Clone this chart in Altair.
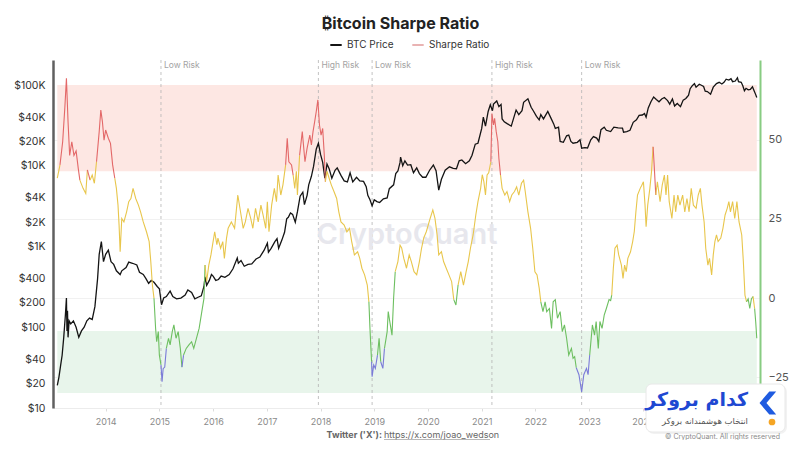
import altair as alt
import pandas as pd

W, H = 707, 348

# ---------------- data ----------------
price_year = [
    2013.10, 2013.13, 2013.16, 2013.19, 2013.22, 2013.25, 2013.27, 2013.28, 2013.29, 2013.30,
    2013.32, 2013.35, 2013.40, 2013.45, 2013.50, 2013.55, 2013.60, 2013.65, 2013.70, 2013.75,
    2013.80, 2013.85, 2013.88, 2013.92, 2013.96, 2014.00, 2014.05, 2014.10, 2014.15, 2014.20,
    2014.27, 2014.30, 2014.38, 2014.43, 2014.50, 2014.58, 2014.63, 2014.70, 2014.75, 2014.80,
    2014.85, 2014.90, 2014.96, 2015.00, 2015.04, 2015.08, 2015.13, 2015.20, 2015.25, 2015.32,
    2015.40, 2015.48, 2015.53, 2015.60, 2015.66, 2015.72, 2015.78, 2015.83, 2015.85, 2015.88,
    2015.93, 2015.97, 2016.00, 2016.05, 2016.10, 2016.15, 2016.22, 2016.30, 2016.37, 2016.45,
    2016.47, 2016.52, 2016.58, 2016.65, 2016.72, 2016.80, 2016.87, 2016.95, 2017.01, 2017.03,
    2017.08, 2017.15, 2017.19, 2017.22, 2017.28, 2017.33, 2017.37, 2017.40, 2017.44, 2017.48,
    2017.53, 2017.57, 2017.62, 2017.67, 2017.70, 2017.75, 2017.78, 2017.83, 2017.87, 2017.92,
    2017.96, 2018.00, 2018.04, 2018.08, 2018.12, 2018.16, 2018.21, 2018.27, 2018.31, 2018.38,
    2018.44, 2018.50, 2018.55, 2018.60, 2018.67, 2018.73, 2018.80, 2018.85, 2018.88, 2018.92,
    2018.96, 2019.00, 2019.05, 2019.10, 2019.17, 2019.24, 2019.28, 2019.36, 2019.40, 2019.44,
    2019.48, 2019.49, 2019.53, 2019.57, 2019.62, 2019.68, 2019.73, 2019.79, 2019.84, 2019.90,
    2019.96, 2020.03, 2020.10, 2020.15, 2020.20, 2020.25, 2020.32, 2020.40, 2020.47, 2020.53,
    2020.58, 2020.63, 2020.70, 2020.77, 2020.82, 2020.88, 2020.93, 2021.00, 2021.03, 2021.07,
    2021.12, 2021.16, 2021.20, 2021.22, 2021.28, 2021.32, 2021.36, 2021.38, 2021.42, 2021.48,
    2021.55, 2021.60, 2021.64, 2021.69, 2021.75, 2021.78, 2021.86, 2021.92, 2021.96, 2022.02,
    2022.07, 2022.10, 2022.15, 2022.23, 2022.28, 2022.34, 2022.37, 2022.43, 2022.46, 2022.52,
    2022.58, 2022.62, 2022.66, 2022.70, 2022.78, 2022.83, 2022.86, 2022.92, 2022.97, 2023.03,
    2023.08, 2023.14, 2023.18, 2023.22, 2023.28, 2023.32, 2023.40, 2023.46, 2023.54, 2023.62,
    2023.64, 2023.70, 2023.76, 2023.82, 2023.88, 2023.93, 2023.99, 2024.03, 2024.06, 2024.10,
    2024.15, 2024.20, 2024.25, 2024.30, 2024.35, 2024.40, 2024.46, 2024.50, 2024.55, 2024.59,
    2024.64, 2024.70, 2024.75, 2024.80, 2024.83, 2024.85, 2024.88, 2024.92, 2024.96, 2024.99,
    2025.05, 2025.08, 2025.13, 2025.16, 2025.20, 2025.26, 2025.31, 2025.37, 2025.42, 2025.47,
    2025.51, 2025.55, 2025.60, 2025.64, 2025.67, 2025.72, 2025.76, 2025.78, 2025.83, 2025.86,
    2025.89, 2025.92, 2025.96, 2026.00, 2026.04, 2026.07, 2026.10, 2026.12,
]
price_value = [
    19, 24, 33, 45, 75, 140, 230, 90, 160, 75,
    120, 110, 120, 100, 75, 90, 100, 120, 130, 125,
    180, 400, 800, 1150, 650, 800, 900, 650, 600, 500,
    450, 500, 550, 640, 620, 590, 480, 450, 400, 350,
    380, 360, 320, 300, 190, 230, 240, 280, 240, 225,
    230, 250, 290, 270, 225, 235, 245, 320, 420, 330,
    380, 450, 430, 380, 390, 430, 415, 450, 530, 720,
    620, 670, 570, 600, 610, 700, 740, 900, 1100, 850,
    950, 1150, 1250, 950, 1200, 1500, 2200, 2300, 2600, 2500,
    2000, 2700, 4200, 4700, 3300, 4300, 5800, 7400, 9800, 16000,
    19000, 13800, 11000, 7000, 10500, 9200, 7000, 8800, 9400, 7600,
    6500, 6300, 8200, 6300, 7200, 6500, 6400, 5500, 4300, 3800,
    3200, 3800, 3600, 3500, 3900, 4000, 5200, 5800, 8000, 8600,
    11000, 12800, 10000, 11500, 10200, 10300, 8200, 9400, 8000, 7200,
    7200, 8800, 10200, 8700, 5000, 6800, 8800, 9700, 9300, 9200,
    11500, 11800, 10600, 11500, 13500, 18500, 19000, 29000, 40000, 31000,
    47000, 57000, 48000, 58000, 63500, 54000, 57500, 38000, 35000, 33000,
    31000, 40000, 49000, 43000, 48000, 61000, 67500, 53000, 48000, 41000,
    37000, 43000, 38000, 47000, 40000, 33000, 29000, 30000, 20000, 19500,
    23500, 24000, 20000, 19000, 19500, 21000, 16500, 16800, 16600, 21000,
    23000, 22000, 20000, 28000, 30000, 27500, 26500, 30000, 29500, 29200,
    26000, 26500, 27500, 34500, 37000, 42000, 42500, 44500, 40000, 52000,
    62000, 71000, 66000, 62000, 67000, 70000, 64000, 58000, 67000, 55000,
    59000, 54000, 65000, 68000, 72000, 75000, 90000, 98000, 104000, 94000,
    102000, 100000, 96000, 84000, 83000, 77000, 94000, 104000, 108000, 103000,
    108000, 118000, 115000, 120000, 110000, 112000, 123000, 110000, 108000, 98000,
    85000, 91000, 87000, 88000, 95000, 85000, 76000, 70000,
]

sharpe_year = [
    2013.10, 2013.15, 2013.20, 2013.24, 2013.27, 2013.30, 2013.33, 2013.37, 2013.41, 2013.45,
    2013.49, 2013.52, 2013.58, 2013.63, 2013.66, 2013.71, 2013.75, 2013.79, 2013.83, 2013.88,
    2013.91, 2013.94, 2013.97, 2014.00, 2014.05, 2014.09, 2014.13, 2014.17, 2014.20, 2014.23,
    2014.25, 2014.27, 2014.30, 2014.34, 2014.39, 2014.43, 2014.47, 2014.51, 2014.56, 2014.61,
    2014.65, 2014.70, 2014.76, 2014.81, 2014.84, 2014.87, 2014.90, 2014.91, 2014.93, 2014.95,
    2014.98, 2015.00, 2015.03, 2015.05, 2015.07, 2015.10, 2015.13, 2015.17, 2015.20, 2015.24,
    2015.27, 2015.31, 2015.35, 2015.39, 2015.42, 2015.45, 2015.50, 2015.55, 2015.60, 2015.64,
    2015.69, 2015.74, 2015.79, 2015.83, 2015.85, 2015.88, 2015.92, 2015.96, 2016.00, 2016.03,
    2016.07, 2016.09, 2016.14, 2016.18, 2016.21, 2016.25, 2016.28, 2016.34, 2016.40, 2016.46,
    2016.52, 2016.56, 2016.60, 2016.65, 2016.70, 2016.74, 2016.79, 2016.84, 2016.89, 2016.93,
    2016.98, 2017.01, 2017.04, 2017.09, 2017.14, 2017.18, 2017.21, 2017.26, 2017.30, 2017.35,
    2017.38, 2017.41, 2017.46, 2017.49, 2017.52, 2017.55, 2017.57, 2017.61, 2017.66, 2017.71,
    2017.75, 2017.80, 2017.83, 2017.86, 2017.89, 2017.92, 2017.95, 2017.98, 2018.01, 2018.04,
    2018.07, 2018.09, 2018.12, 2018.16, 2018.20, 2018.25, 2018.30, 2018.34, 2018.38, 2018.44,
    2018.49, 2018.54, 2018.58, 2018.63, 2018.69, 2018.73, 2018.77, 2018.82, 2018.87, 2018.90,
    2018.92, 2018.95, 2018.96, 2018.99, 2019.02, 2019.06, 2019.09, 2019.12, 2019.16, 2019.19,
    2019.24, 2019.26, 2019.29, 2019.33, 2019.36, 2019.39, 2019.44, 2019.48, 2019.51, 2019.55,
    2019.60, 2019.65, 2019.69, 2019.74, 2019.79, 2019.84, 2019.88, 2019.92, 2019.97, 2020.04,
    2020.09, 2020.13, 2020.17, 2020.20, 2020.25, 2020.29, 2020.34, 2020.39, 2020.44, 2020.48,
    2020.52, 2020.56, 2020.61, 2020.66, 2020.71, 2020.75, 2020.79, 2020.84, 2020.89, 2020.93,
    2020.98, 2021.01, 2021.04, 2021.07, 2021.10, 2021.13, 2021.17, 2021.19, 2021.22, 2021.24,
    2021.27, 2021.30, 2021.32, 2021.35, 2021.38, 2021.43, 2021.47, 2021.52, 2021.56, 2021.61,
    2021.65, 2021.69, 2021.74, 2021.78, 2021.81, 2021.86, 2021.91, 2021.95, 2021.99, 2022.03,
    2022.07, 2022.10, 2022.14, 2022.18, 2022.21, 2022.26, 2022.30, 2022.33, 2022.37, 2022.41,
    2022.46, 2022.50, 2022.54, 2022.58, 2022.62, 2022.67, 2022.70, 2022.73, 2022.76, 2022.81,
    2022.86, 2022.90, 2022.95, 2022.98, 2023.01, 2023.06, 2023.10, 2023.13, 2023.17, 2023.20,
    2023.24, 2023.28, 2023.32, 2023.37, 2023.40, 2023.42, 2023.45, 2023.48, 2023.52, 2023.55,
    2023.60, 2023.63, 2023.66, 2023.69, 2023.72, 2023.77, 2023.81, 2023.84, 2023.87, 2023.90,
    2023.95, 2023.98, 2024.01, 2024.04, 2024.06, 2024.09, 2024.13, 2024.16, 2024.19, 2024.21,
    2024.24, 2024.27, 2024.32, 2024.36, 2024.40, 2024.43, 2024.46, 2024.49, 2024.54, 2024.58,
    2024.61, 2024.65, 2024.69, 2024.74, 2024.78, 2024.82, 2024.86, 2024.90, 2024.94, 2024.99,
    2025.03, 2025.07, 2025.10, 2025.14, 2025.17, 2025.21, 2025.24, 2025.28, 2025.31, 2025.34,
    2025.37, 2025.40, 2025.45, 2025.49, 2025.53, 2025.57, 2025.60, 2025.63, 2025.67, 2025.71,
    2025.75, 2025.79, 2025.84, 2025.87, 2025.90, 2025.93, 2025.96, 2025.99, 2026.02, 2026.05,
    2026.08, 2026.10, 2026.12,
]
sharpe_value = [
    37.8, 42.0, 49.3, 60.0, 69.3, 55.6, 45.0, 49.3, 45.0, 46.4,
    40.9, 37.2, 34.6, 33.0, 40.4, 37.2, 38.8, 36.2, 43.0, 52.5,
    59.3, 55.6, 49.8, 53.0, 50.4, 48.8, 42.0, 37.8, 34.6, 29.3,
    23.0, 14.6, 25.1, 24.0, 27.2, 30.4, 31.4, 34.6, 31.4, 29.3,
    27.2, 24.0, 20.9, 17.8, 11.5, 4.1, -0.1, -3.3, -9.6, -13.8,
    -10.6, -18.0, -21.1, -26.4, -22.3, -21.8, -15.9, -12.7, -14.8, -10.6,
    -8.5, -12.7, -10.6, -15.9, -21.8, -18.0, -15.9, -14.8, -13.8, -15.9,
    -12.7, -9.6, -4.3, -0.1, 10.4, 5.2, 10.4, 13.6, 17.8, 20.9,
    16.8, 18.9, 15.7, 17.8, 12.5, 18.9, 22.0, 24.0, 22.0, 32.5,
    26.2, 22.0, 24.0, 28.3, 25.1, 22.0, 28.3, 24.0, 29.3, 26.2,
    22.0, 30.4, 20.9, 29.3, 34.6, 30.4, 38.8, 32.5, 35.7, 42.0,
    50.4, 43.0, 42.0, 38.8, 34.6, 40.0, 32.5, 45.0, 52.5, 43.0,
    47.3, 51.4, 48.3, 52.5, 55.6, 58.8, 62.5, 54.6, 51.4, 53.5,
    45.0, 36.7, 40.0, 37.8, 35.7, 33.6, 31.4, 27.2, 24.0, 23.0,
    20.9, 22.0, 17.8, 13.6, 14.6, 12.5, 9.4, 7.3, 4.1, -1.2,
    -9.6, -20.1, -24.8, -21.1, -22.2, -18.0, -12.7, -20.1, -22.2, -15.9,
    -10.6, -4.3, -7.5, -11.7, -0.1, 8.3, 11.5, 16.7, 15.8, 12.5,
    9.4, 13.6, 11.5, 8.3, 7.3, 11.5, 15.7, 18.9, 21.0, 25.1,
    27.8, 25.1, 19.9, 13.6, 14.6, 11.5, 9.4, 7.3, 5.2, -0.5,
    -2.2, 4.1, 8.3, 4.1, 8.3, 11.5, 15.7, 19.9, 26.2, 30.4,
    34.6, 38.9, 36.7, 32.5, 38.8, 39.5, 43.0, 58.2, 54.6, 56.7,
    52.5, 49.3, 44.0, 38.8, 34.6, 32.5, 33.6, 30.4, 32.5, 33.6,
    35.1, 32.5, 36.2, 37.2, 33.6, 27.2, 22.0, 15.7, 8.3, 7.3,
    3.1, -1.2, -4.3, -1.2, -4.3, -3.3, -9.6, -1.2, -0.5, -6.4,
    -4.3, -10.6, -8.5, -12.7, -18.0, -15.9, -19.0, -18.5, -22.0, -24.2,
    -29.6, -24.2, -22.2, -24.2, -18.0, -8.5, -11.7, -7.4, -15.9, -7.4,
    -9.6, -5.4, -3.3, -0.5, -0.8, 0.9, 9.4, 15.7, 16.7, 13.6,
    10.4, 6.2, 10.4, 8.3, 12.5, 14.6, 17.8, 21.0, 27.2, 32.5,
    34.6, 35.6, 36.7, 29.3, 22.5, 29.3, 34.6, 39.8, 47.7, 42.0,
    32.5, 36.7, 30.4, 35.6, 38.8, 32.5, 38.8, 30.4, 25.1, 32.5,
    27.2, 32.5, 29.3, 32.5, 27.2, 31.4, 27.2, 34.6, 29.3, 28.3,
    32.5, 34.6, 29.3, 24.0, 15.7, 10.4, 12.5, 7.3, 13.6, 17.8,
    19.9, 17.8, 18.9, 22.0, 26.2, 28.3, 30.4, 27.2, 30.4, 25.1,
    30.4, 24.0, 19.9, 11.5, 0.9, -1.2, -0.3, -3.3, -0.3, 0.5,
    -3.3, -7.5, -12.7,
]

band_names = ["High risk zone", "Low risk zone"]
band_lo = [40.0, -30.0]
band_hi = [67.2, -10.4]
band_fill = ["#fde7e3", "#e8f5eb"]

event_year = [2015.03, 2017.96, 2018.96, 2021.19, 2022.86]
event_label = ["Low Risk", "High Risk", "Low Risk", "High Risk", "Low Risk"]

year_ticks = list(range(2014, 2025))
price_ticks = [10, 20, 40, 100, 200, 400, 1000, 2000, 4000, 10000, 20000, 40000, 100000]
sharpe_ticks = [-25, 0, 25, 50]

zone_names = ["Overheated", "Neutral", "Undervalued", "Deep value"]
zone_colors = ["#e36868", "#e8c64c", "#6dbf60", "#7b7bd8"]
series_names = ["BTC Price", "Sharpe Ratio"]
series_colors = ["#141414", "#e9b3b3"]

# ---------------- tables ----------------
price_df = pd.DataFrame({"year": price_year, "price": price_value, "series": series_names[0]})


def zone_of(v):
    if v > 40:
        return zone_names[0]
    if v >= 0:
        return zone_names[1]
    if v > -20:
        return zone_names[2]
    return zone_names[3]


rows = []
run = 0
prev = None
for i, (yr, v) in enumerate(zip(sharpe_year, sharpe_value)):
    z = zone_of(v)
    if prev is not None and z != prev:
        rows.append({"year": yr, "sharpe": v, "zone": prev, "run": run, "order": i})
        run += 1
    rows.append({"year": yr, "sharpe": v, "zone": z, "run": run, "order": i})
    prev = z
sharpe_df = pd.DataFrame(rows)

band_df = pd.DataFrame({
    "name": band_names, "lo": band_lo, "hi": band_hi,
    "x0": [sharpe_year[0]] * 2, "x1": [sharpe_year[-1]] * 2,
})
event_df = pd.DataFrame({"year": event_year, "label": event_label})

# ---------------- scales / axes ----------------
x_scale = alt.Scale(domain=[2013.02, 2026.18], nice=False, zero=False)
x_axis = alt.Axis(values=year_ticks, format="d", title=None, grid=False,
                  labelColor="#8a8a8a", labelFontSize=9, labelFont="Inter",
                  tickColor="#dcdcdc", tickSize=3, domainColor="#ececec",
                  labelPadding=6)


def X(field):
    return alt.X(field, type="quantitative", scale=x_scale, axis=x_axis)


sharpe_scale = alt.Scale(domain=[-34.7, 75.1], nice=False, zero=False)
price_scale = alt.Scale(type="log", domain=[10, 204000], nice=False)

bands = alt.Chart(band_df).mark_rect().encode(
    x=X("x0"), x2="x1:Q",
    y=alt.Y("lo:Q", scale=sharpe_scale, axis=None), y2="hi:Q",
    fill=alt.Fill("name:N", scale=alt.Scale(domain=band_names, range=band_fill), legend=None),
)

rules = alt.Chart(event_df).mark_rule(strokeDash=[3, 3], color="#b4b4b4", strokeWidth=0.8).encode(
    x=X("year"), y=alt.value(0), y2=alt.value(H),
)
rule_labels = alt.Chart(event_df).mark_text(
    align="left", baseline="middle", dx=3, fontSize=8.5, font="Inter", color="#a3a3a3"
).encode(x=X("year"), y=alt.value(5), text="label:N")

watermark = alt.Chart(pd.DataFrame({"t": ["CryptoQuant"]})).mark_text(
    fontSize=29, font="Inter", fontWeight=600, color="#e7e7ed", align="center", baseline="middle"
).encode(x=alt.value(354), y=alt.value(175), text="t:N")

price_line = alt.Chart(price_df).mark_line(strokeWidth=1.3).encode(
    x=X("year"),
    y=alt.Y("price:Q", scale=price_scale,
            axis=alt.Axis(orient="left", values=price_ticks, title=None, grid=False, ticks=False,
                          labelExpr="datum.value >= 1000 ? '$' + (datum.value / 1000) + 'K' : '$' + datum.value",
                          domainColor="#606060", domainWidth=2.5, labelColor="#333333",
                          labelFontSize=10.5, labelFont="Inter", labelPadding=8)),
    color=alt.Color("series:N", scale=alt.Scale(domain=series_names, range=series_colors),
                    legend=alt.Legend(title=None, orient="none", legendX=276, legendY=-22,
                                      direction="horizontal", symbolType="stroke", symbolSize=130,
                                      symbolStrokeWidth=2, labelFontSize=10, labelFont="Inter",
                                      labelColor="#333333", columnPadding=14)),
)

sharpe_line = alt.Chart(sharpe_df).mark_line(strokeWidth=1.1).encode(
    x=X("year"),
    y=alt.Y("sharpe:Q", scale=sharpe_scale,
            axis=alt.Axis(orient="right", values=sharpe_ticks, title=None, grid=True,
                          gridColor="#f1f1f1", ticks=False, domainColor="#88cc82", domainWidth=2,
                          labelColor="#555555", labelFontSize=11, labelFont="Inter", labelPadding=8)),
    stroke=alt.Stroke("zone:N", scale=alt.Scale(domain=zone_names, range=zone_colors), legend=None),
    detail="run:N",
    order="order:Q",
)

one = pd.DataFrame({"t": ["x"]})
footer_a = alt.Chart(pd.DataFrame({"t": ["Twitter ('X'):"]})).mark_text(
    align="right", baseline="middle", fontSize=9, font="Inter", fontWeight="bold", color="#666666"
).encode(x=alt.value(329), y=alt.value(375), text="t:N")
footer_b = alt.Chart(pd.DataFrame({"t": ["https://x.com/joao_wedson"]})).mark_text(
    align="left", baseline="middle", fontSize=9, font="Inter", color="#666666"
).encode(x=alt.value(331), y=alt.value(375), text="t:N")
footer_u = alt.Chart(one).mark_rule(color="#9a9a9a", strokeWidth=0.7).encode(
    x=alt.value(331), x2=alt.value(437), y=alt.value(379.5)
)
copyright_t = alt.Chart(pd.DataFrame({"t": ["© CryptoQuant. All rights reserved"]})).mark_text(
    align="right", baseline="middle", fontSize=7, font="Inter", color="#8a8a8a"
).encode(x=alt.value(727), y=alt.value(376.5), text="t:N")

logo_shadow = alt.Chart(one).mark_rect(fill="#000000", opacity=0.05, cornerRadius=7).encode(
    x=alt.value(594), x2=alt.value(734), y=alt.value(325), y2=alt.value(374)
)
logo_box = alt.Chart(one).mark_rect(fill="white", cornerRadius=6, stroke="#e8e8e8", strokeWidth=1).encode(
    x=alt.value(593), x2=alt.value(732), y=alt.value(324), y2=alt.value(372)
)
logo_chevron = alt.Chart(one).mark_point(
    shape="M 0.2 -1 L 0.8 -1 L -0.05 0 L 0.8 1 L 0.2 1 L -0.65 0 Z",
    filled=True, fill="#1f5be0", size=529, opacity=1, strokeWidth=0
).encode(x=alt.value(714), y=alt.value(343))
logo_dot = alt.Chart(one).mark_circle(color="#f5a524", size=45, opacity=1).encode(
    x=alt.value(719), y=alt.value(362)
)
logo_name = alt.Chart(pd.DataFrame({"t": ["کدام بروکر"]})).mark_text(
    align="right", baseline="middle", fontSize=19, fontWeight="bold", font="DejaVu Sans", color="#1e48d2"
).encode(x=alt.value(695), y=alt.value(340), text="t:N")
logo_sub = alt.Chart(pd.DataFrame({"t": ["انتخاب هوشمندانه بروکر"]})).mark_text(
    align="right", baseline="middle", fontSize=8.5, font="DejaVu Sans", color="#555555"
).encode(x=alt.value(695), y=alt.value(361), text="t:N")

chart = alt.layer(
    bands, rules, rule_labels, watermark, price_line, sharpe_line,
    footer_a, footer_b, footer_u, copyright_t,
    logo_shadow, logo_box, logo_chevron, logo_dot, logo_name, logo_sub,
).resolve_scale(y="independent").properties(
    width=W, height=H,
    title=alt.TitleParams("₿itcoin Sharpe Ratio", anchor="middle", fontSize=16, fontWeight="bold",
                          font="Inter", color="#222222", dx=-6, offset=6),
    padding={"left": 45, "top": 52, "right": 30, "bottom": 32},
    autosize=alt.AutoSizeParams(type="none"),
).configure_view(stroke=None)

chart.save("out.html", embed_options={"renderer": "svg", "actions": False})
